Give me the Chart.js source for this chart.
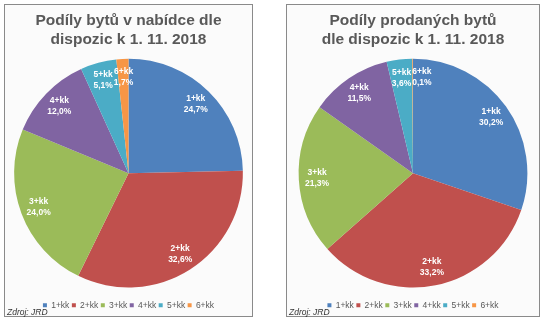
<!DOCTYPE html>
<html>
<head>
<meta charset="utf-8">
<script src="https://cdn.jsdelivr.net/npm/chart.js@4"></script>
<style>
  body { margin: 0; background: #fff; width: 544px; height: 322px; position: relative; overflow: hidden; }
  .panel { position: absolute; top: 4px; height: 311px; border: 1px solid #8a8a8a; background: #fbfbfb; }
  #p1 { left: 4px; width: 247px; }
  #p2 { left: 286px; width: 252px; }
  .panel canvas { position: absolute; left: 0; top: 0; }
  .zdroj { position: absolute; left: 2px; top: 302px; font: italic 8.5px "Liberation Sans", Arial, sans-serif; color: #333; }
</style>
</head>
<body>
<div class="panel" id="p1"><canvas id="nabidka" width="247" height="311"></canvas><div class="zdroj">Zdroj: JRD</div></div>
<div class="panel" id="p2"><canvas id="prodane" width="252" height="311"></canvas><div class="zdroj">Zdroj: JRD</div></div>
<script>
const dispozice = ["1+kk", "2+kk", "3+kk", "4+kk", "5+kk", "6+kk"];
const nabidka = [24.7, 32.6, 24.0, 12.0, 5.1, 1.7];
const prodane = [30.2, 33.2, 21.3, 11.5, 3.6, 0.1];
const barvy = ["#4f81bd", "#c0504d", "#9bbb59", "#8064a2", "#4bacc6", "#f79646"];

// popisky uvnitr vysecu (jako v Excelu)
const popisky = {
    id: "popisky",
    afterDatasetsDraw(chart) {
        const ctx = chart.ctx;
        const meta = chart.getDatasetMeta(0);
        const data = chart.data.datasets[0].data;
        ctx.save();
        ctx.font = "bold 8.5px 'Liberation Sans', Arial, sans-serif";
        ctx.fillStyle = "#fff";
        ctx.textAlign = "center";
        ctx.textBaseline = "middle";
        let predchozi = null;
        meta.data.forEach((arc, i) => {
            const a = (arc.startAngle + arc.endAngle) / 2;
            const r = arc.outerRadius * 0.84;
            let x = arc.x + Math.cos(a) * r;
            const y = arc.y + Math.sin(a) * r;
            const t1 = chart.data.labels[i];
            const t2 = data[i].toFixed(1).replace(".", ",") + "%";
            const w = Math.max(ctx.measureText(t1).width, ctx.measureText(t2).width);
            if (predchozi && Math.abs(y - predchozi.y) < 20 && x - predchozi.x < (w + predchozi.w) / 2 + 1) {
                x = predchozi.x + (w + predchozi.w) / 2 + 1;
            }
            ctx.fillText(t1, x, y - 5.5);
            ctx.fillText(t2, x, y + 5.5);
            predchozi = { x: x, y: y, w: w };
        });
        ctx.restore();
    },
};

// legenda je v Excelu tesne u spodniho okraje
const posunLegendy = {
    id: "posunLegendy",
    afterLayout(chart) {
        if (chart.legend) {
            chart.legend.top += 11;
            chart.legend.bottom += 11;
        }
    },
};

function createPieChart(item, title, values) {
    return new Chart(item, {
        type: "pie",
        data: {
            labels: dispozice,
            datasets: [
                {
                    data: values,
                    backgroundColor: barvy,
                    borderWidth: 0,
                },
            ],
        },
        options: {
            responsive: false,
            animation: false,
            layout: { padding: { left: 0, right: 0, top: 0, bottom: 7.5 } },
            plugins: {
                tooltip: { enabled: false },
                title: {
                    display: true,
                    text: title,
                    color: "#595959",
                    font: { family: "'Liberation Sans', Arial, sans-serif", size: 15.5, weight: "bold", lineHeight: 1.25 },
                    padding: { top: 6, bottom: 9 },
                },
                legend: {
                    position: "bottom",
                    labels: {
                        boxWidth: 4,
                        boxHeight: 4,
                        padding: 2.5,
                        color: "#595959",
                        font: { family: "'Liberation Sans', Arial, sans-serif", size: 8.5 },
                    },
                },
            },
        },
        plugins: [popisky, posunLegendy],
    });
}

createPieChart(document.querySelector("#nabidka"), ["Podíly bytů v nabídce dle", "dispozic k 1. 11. 2018"], nabidka);
createPieChart(document.querySelector("#prodane"), ["Podíly prodaných bytů", "dle dispozic k 1. 11. 2018"], prodane);
</script>
</body>
</html>
